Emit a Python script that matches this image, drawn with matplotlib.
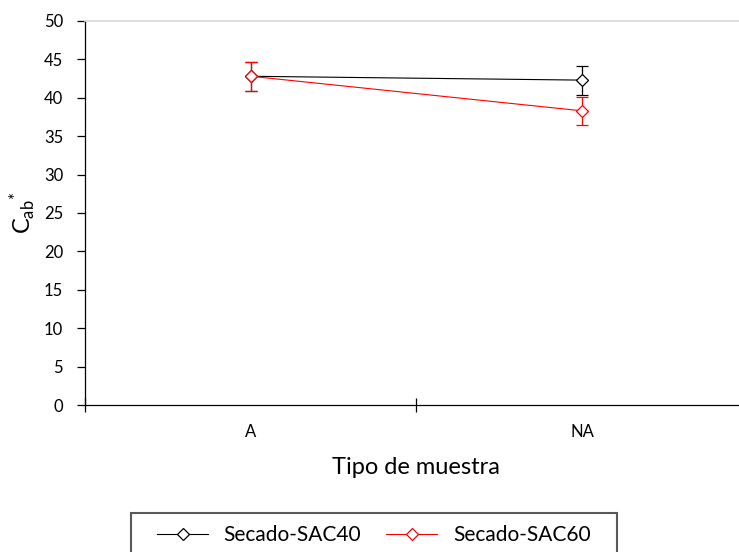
import matplotlib
matplotlib.use("Agg")
import matplotlib.pyplot as plt
from matplotlib.lines import Line2D
from matplotlib.patches import Rectangle
import numpy as np

plt.rcParams['font.family'] = ['Lato', 'DejaVu Sans']
plt.rcParams['mathtext.default'] = 'regular'

categories = ['A', 'NA']
sac40 = [42.8, 42.3]
sac40_err = [1.9, 1.9]
sac60 = [42.8, 38.3]
sac60_err = [1.9, 1.85]

fig = plt.figure(figsize=(7.39, 5.52), dpi=100)
ax = fig.add_axes([0.115, 0.2663, 0.897, 0.6957])

x = np.arange(len(categories)) + 0.5

style = dict(lw=0.8, marker='D', ms=6.5, mfc='white', mew=0.9,
             capsize=4.3, capthick=0.9, elinewidth=0.9)
ax.errorbar(x, sac40, yerr=sac40_err, color='black', mec='black', zorder=3, **style)
ax.errorbar(x, sac60, yerr=sac60_err, color='red', mec='red', zorder=4, **style)

ax.set_xlim(0, 2)
ax.set_ylim(0, 50)
ax.set_yticks(np.arange(0, 51, 5))
ax.set_xticks([0, 1, 2])
ax.set_xticklabels([])
ax.set_xticks(x, minor=True)
ax.set_xticklabels(categories, minor=True)
ax.tick_params(axis='x', which='major', direction='inout', length=10, width=0.9)
ax.tick_params(axis='x', which='minor', length=0, pad=14, labelsize=12)
ax.tick_params(axis='y', direction='out', length=5.8, width=0.9, pad=10, labelsize=12)

for s in ['left', 'bottom']:
    ax.spines[s].set_linewidth(0.9)
ax.spines['top'].set_color('#d9d9d9')
ax.spines['top'].set_linewidth(1.2)
ax.spines['right'].set_visible(False)

ax.set_xlabel('Tipo de muestra', fontsize=17, labelpad=12)
ax.set_ylabel('C$_{ab}$$^{*}$', fontsize=17, labelpad=4)

# legend frame runs off the bottom edge
fig.patches.append(Rectangle((131 / 739, -0.05), (617 - 131) / 739, 0.05 + 0.0707,
                             transform=fig.transFigure, fill=False,
                             edgecolor='#595959', lw=1.5))

handles = [
    Line2D([], [], color='black', lw=0.8, marker='D', ms=6.5, mfc='white', mec='black', mew=0.9),
    Line2D([], [], color='red', lw=0.8, marker='D', ms=6.5, mfc='white', mec='red', mew=0.9),
]
leg = fig.legend(handles, ['Secado-SAC40', 'Secado-SAC60'], loc='center left',
                 bbox_to_anchor=(157 / 739, 1 - 535 / 552), ncol=2, frameon=False,
                 fontsize=15, borderpad=0, handlelength=2.45,
                 columnspacing=1.2, handletextpad=0.75, borderaxespad=0)

fig.savefig('out.png', dpi=100)
